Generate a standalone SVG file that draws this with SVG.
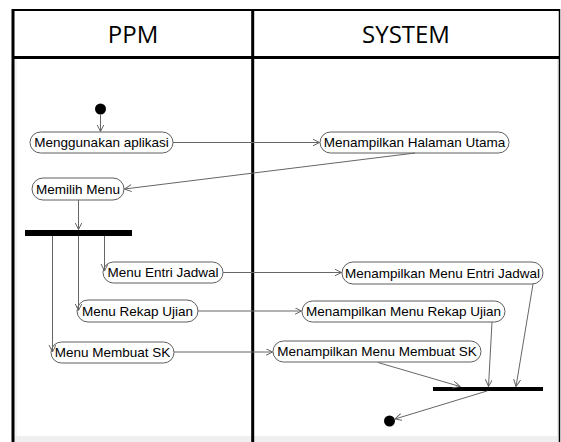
<svg xmlns="http://www.w3.org/2000/svg" width="561" height="442" viewBox="0 0 561 442">
<style>
.frame{fill:none;stroke:#000;}
.hdr{font-family:"Open Sans","Liberation Sans",sans-serif;font-size:24px;fill:#000;text-anchor:middle;}
.node rect{fill:#fff;stroke:#5e5e5e;stroke-width:1;}
.node text{font-family:"Liberation Sans",Arial,sans-serif;font-size:13.5px;fill:#000;text-anchor:middle;}
.conn path{fill:none;stroke:#666;stroke-width:1;marker-end:url(#arr);}
.bar{fill:#000;}
</style>
<defs>
<marker id="arr" markerUnits="userSpaceOnUse" markerWidth="8" markerHeight="8" refX="7" refY="3.5" orient="auto">
<path d="M0,0 L7,3.5 L0,7" fill="none" stroke="#666" stroke-width="1"/>
</marker>
</defs>
<rect x="0" y="0" width="561" height="442" fill="#fff"/>
<rect x="14" y="436" width="546" height="6" fill="#efefef"/>
<rect x="14" y="59" width="3" height="377" fill="#f4f4f4"/>
<rect x="557" y="59" width="2" height="383" fill="#ececec"/>
<g id="swimlanes">
<line class="frame" x1="13" y1="10" x2="560" y2="10" stroke-width="2"/>
<line class="frame" x1="13" y1="9" x2="13" y2="442" stroke-width="3"/>
<line class="frame" x1="559.5" y1="9" x2="559.5" y2="442" stroke="#333" stroke-width="1.5"/>
<line class="frame" x1="13" y1="57.5" x2="560" y2="57.5" stroke-width="3"/>
<line class="frame" x1="252.7" y1="9" x2="252.7" y2="442" stroke-width="3"/>
<text class="hdr" x="133" y="43">PPM</text>
<text class="hdr" x="406" y="43">SYSTEM</text>
</g>
<g id="start"><circle cx="100.5" cy="109" r="5.5" fill="#000"/></g>
<g id="n1" class="node"><rect x="30" y="132" width="143" height="21" rx="10.5"/><text x="101.5" y="147.3">Menggunakan aplikasi</text></g>
<g id="n2" class="node"><rect x="320" y="132" width="189" height="21" rx="10.5"/><text x="414.5" y="147.3">Menampilkan Halaman Utama</text></g>
<g id="n3" class="node"><rect x="32" y="178" width="92" height="22" rx="11"/><text x="78" y="193.8">Memilih Menu</text></g>
<g id="fork"><rect class="bar" x="25" y="230" width="107" height="6"/></g>
<g id="n4" class="node"><rect x="103" y="262" width="120" height="21" rx="10.5"/><text x="163" y="277.3">Menu Entri Jadwal</text></g>
<g id="n5" class="node"><rect x="77" y="300" width="121" height="22" rx="11"/><text x="137.5" y="315.8">Menu Rekap Ujian</text></g>
<g id="n6" class="node"><rect x="51" y="342" width="123" height="21" rx="10.5"/><text x="112.5" y="357.3">Menu Membuat SK</text></g>
<g id="n7" class="node"><rect x="342" y="262" width="201" height="22" rx="11"/><text x="442.5" y="277.8">Menampilkan Menu Entri Jadwal</text></g>
<g id="n8" class="node"><rect x="302" y="301" width="203" height="21" rx="10.5"/><text x="403.5" y="316.3">Menampilkan Menu Rekap Ujian</text></g>
<g id="n9" class="node"><rect x="273" y="341" width="208" height="21" rx="10.5"/><text x="377" y="356.3">Menampilkan Menu Membuat SK</text></g>
<g id="join"><rect class="bar" x="433" y="387" width="110" height="4"/></g>
<g id="end"><circle cx="389.5" cy="421" r="5.5" fill="#000"/></g>
<g id="connectors" class="conn">
<path d="M100.5,114.5 L100.5,131.5"/>
<path d="M173,142.5 L319.5,142.5"/>
<path d="M415,153 L124.5,189"/>
<path d="M78.5,200 L78.5,229.5"/>
<path d="M104.5,236 L104.5,271"/>
<path d="M78.5,236 L78.5,310.5"/>
<path d="M52.5,236 L52.5,352"/>
<path d="M223,272.5 L341.5,272.5"/>
<path d="M198,311 L301.5,311"/>
<path d="M174,352 L272.5,352"/>
<path d="M378,362.5 L460,386.5"/>
<path d="M492,322 L488.5,386.5"/>
<path d="M533,284 L516,386.5"/>
<path d="M487,391 L395,419"/>
</g>
</svg>
